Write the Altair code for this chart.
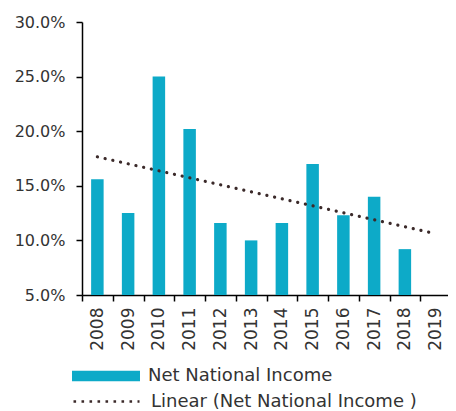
import altair as alt
import pandas as pd

years = ["2008", "2009", "2010", "2011", "2012", "2013", "2014", "2015", "2016", "2017", "2018", "2019"]
bar_years = [2008, 2009, 2010, 2011, 2012, 2013, 2014, 2015, 2016, 2017, 2018]
values = [0.156, 0.125, 0.250, 0.202, 0.116, 0.100, 0.116, 0.170, 0.123, 0.140, 0.092]
bar_series = "Net National Income"
trend_series = "Linear (Net National Income )"

df = pd.DataFrame({"yr": bar_years, "value": values})
df["year"] = df["yr"].astype(str)

FONT = "DejaVu Sans"
TXT = "#333333"
BAR = "#0DAAC8"
DOT = "#3B2A2A"

xscale = alt.Scale(domain=years, paddingInner=0, paddingOuter=0, range=[0, 369])
yscale = alt.Scale(domain=[0.05, 0.30], nice=False, zero=False)

base = alt.Chart(df)

bars = base.transform_calculate(series=f"'{bar_series}'").mark_bar(width=12.5, clip=True).encode(
    x=alt.X("year:N", scale=xscale, sort=years,
            axis=alt.Axis(title=None, labelAngle=-90, tickBand="extent", labelPadding=6,
                          labelBaseline="middle", labelAlign="right", labelFontSize=17)),
    y=alt.Y("value:Q", scale=yscale,
            axis=alt.Axis(title=None, format=".1%", values=[0.05, 0.10, 0.15, 0.20, 0.25, 0.30],
                          grid=False, labelFontSize=16, labelPadding=11)),
    y2=alt.datum(0.05),
    fill=alt.Fill("series:N", scale=alt.Scale(domain=[bar_series], range=[BAR]),
                  legend=alt.Legend(title=None, orient="none", legendX=-10, legendY=320,
                                    symbolType="M-1,-0.157L1,-0.157L1,0.157L-1,0.157Z",
                                    symbolSize=4624, symbolStrokeWidth=0,
                                    labelFontSize=18, labelFont=FONT, labelColor=TXT,
                                    labelOffset=8, labelLimit=0, padding=0)),
)

trend = base.transform_regression("yr", "value", extent=[2008, 2019]).transform_calculate(
    year="toString(datum.yr)", series=f"'{trend_series}'"
).mark_line(strokeDash=[0.1, 7.8], strokeCap="round", strokeWidth=3.2).encode(
    x=alt.X("year:N", scale=xscale, sort=years),
    y=alt.Y("value:Q", scale=yscale),
    stroke=alt.Stroke("series:N", scale=alt.Scale(domain=[trend_series], range=[DOT]),
                      legend=alt.Legend(title=None, orient="none", legendX=-10, legendY=345,
                                        symbolType="stroke", symbolSize=4356,
                                        symbolStrokeWidth=2.6, symbolDash=[2.6, 5.4],
                                        labelFontSize=18, labelFont=FONT, labelColor=TXT,
                                        labelOffset=10, labelLimit=0, padding=0)),
)

chart = alt.layer(bars, trend).resolve_scale(fill="independent", stroke="independent").properties(
    width=366, height=273,
    autosize=alt.AutoSizeParams(type="none"),
    padding={"left": 74, "top": 14, "right": 0, "bottom": 120},
).configure_view(stroke=None).configure_axis(
    labelFont=FONT, labelColor=TXT,
    domainColor="#000000", domainWidth=1.5, tickColor="#000000", tickWidth=1.5, tickSize=6,
)

chart.save("out.html", embed_options={"renderer": "svg", "actions": False})
